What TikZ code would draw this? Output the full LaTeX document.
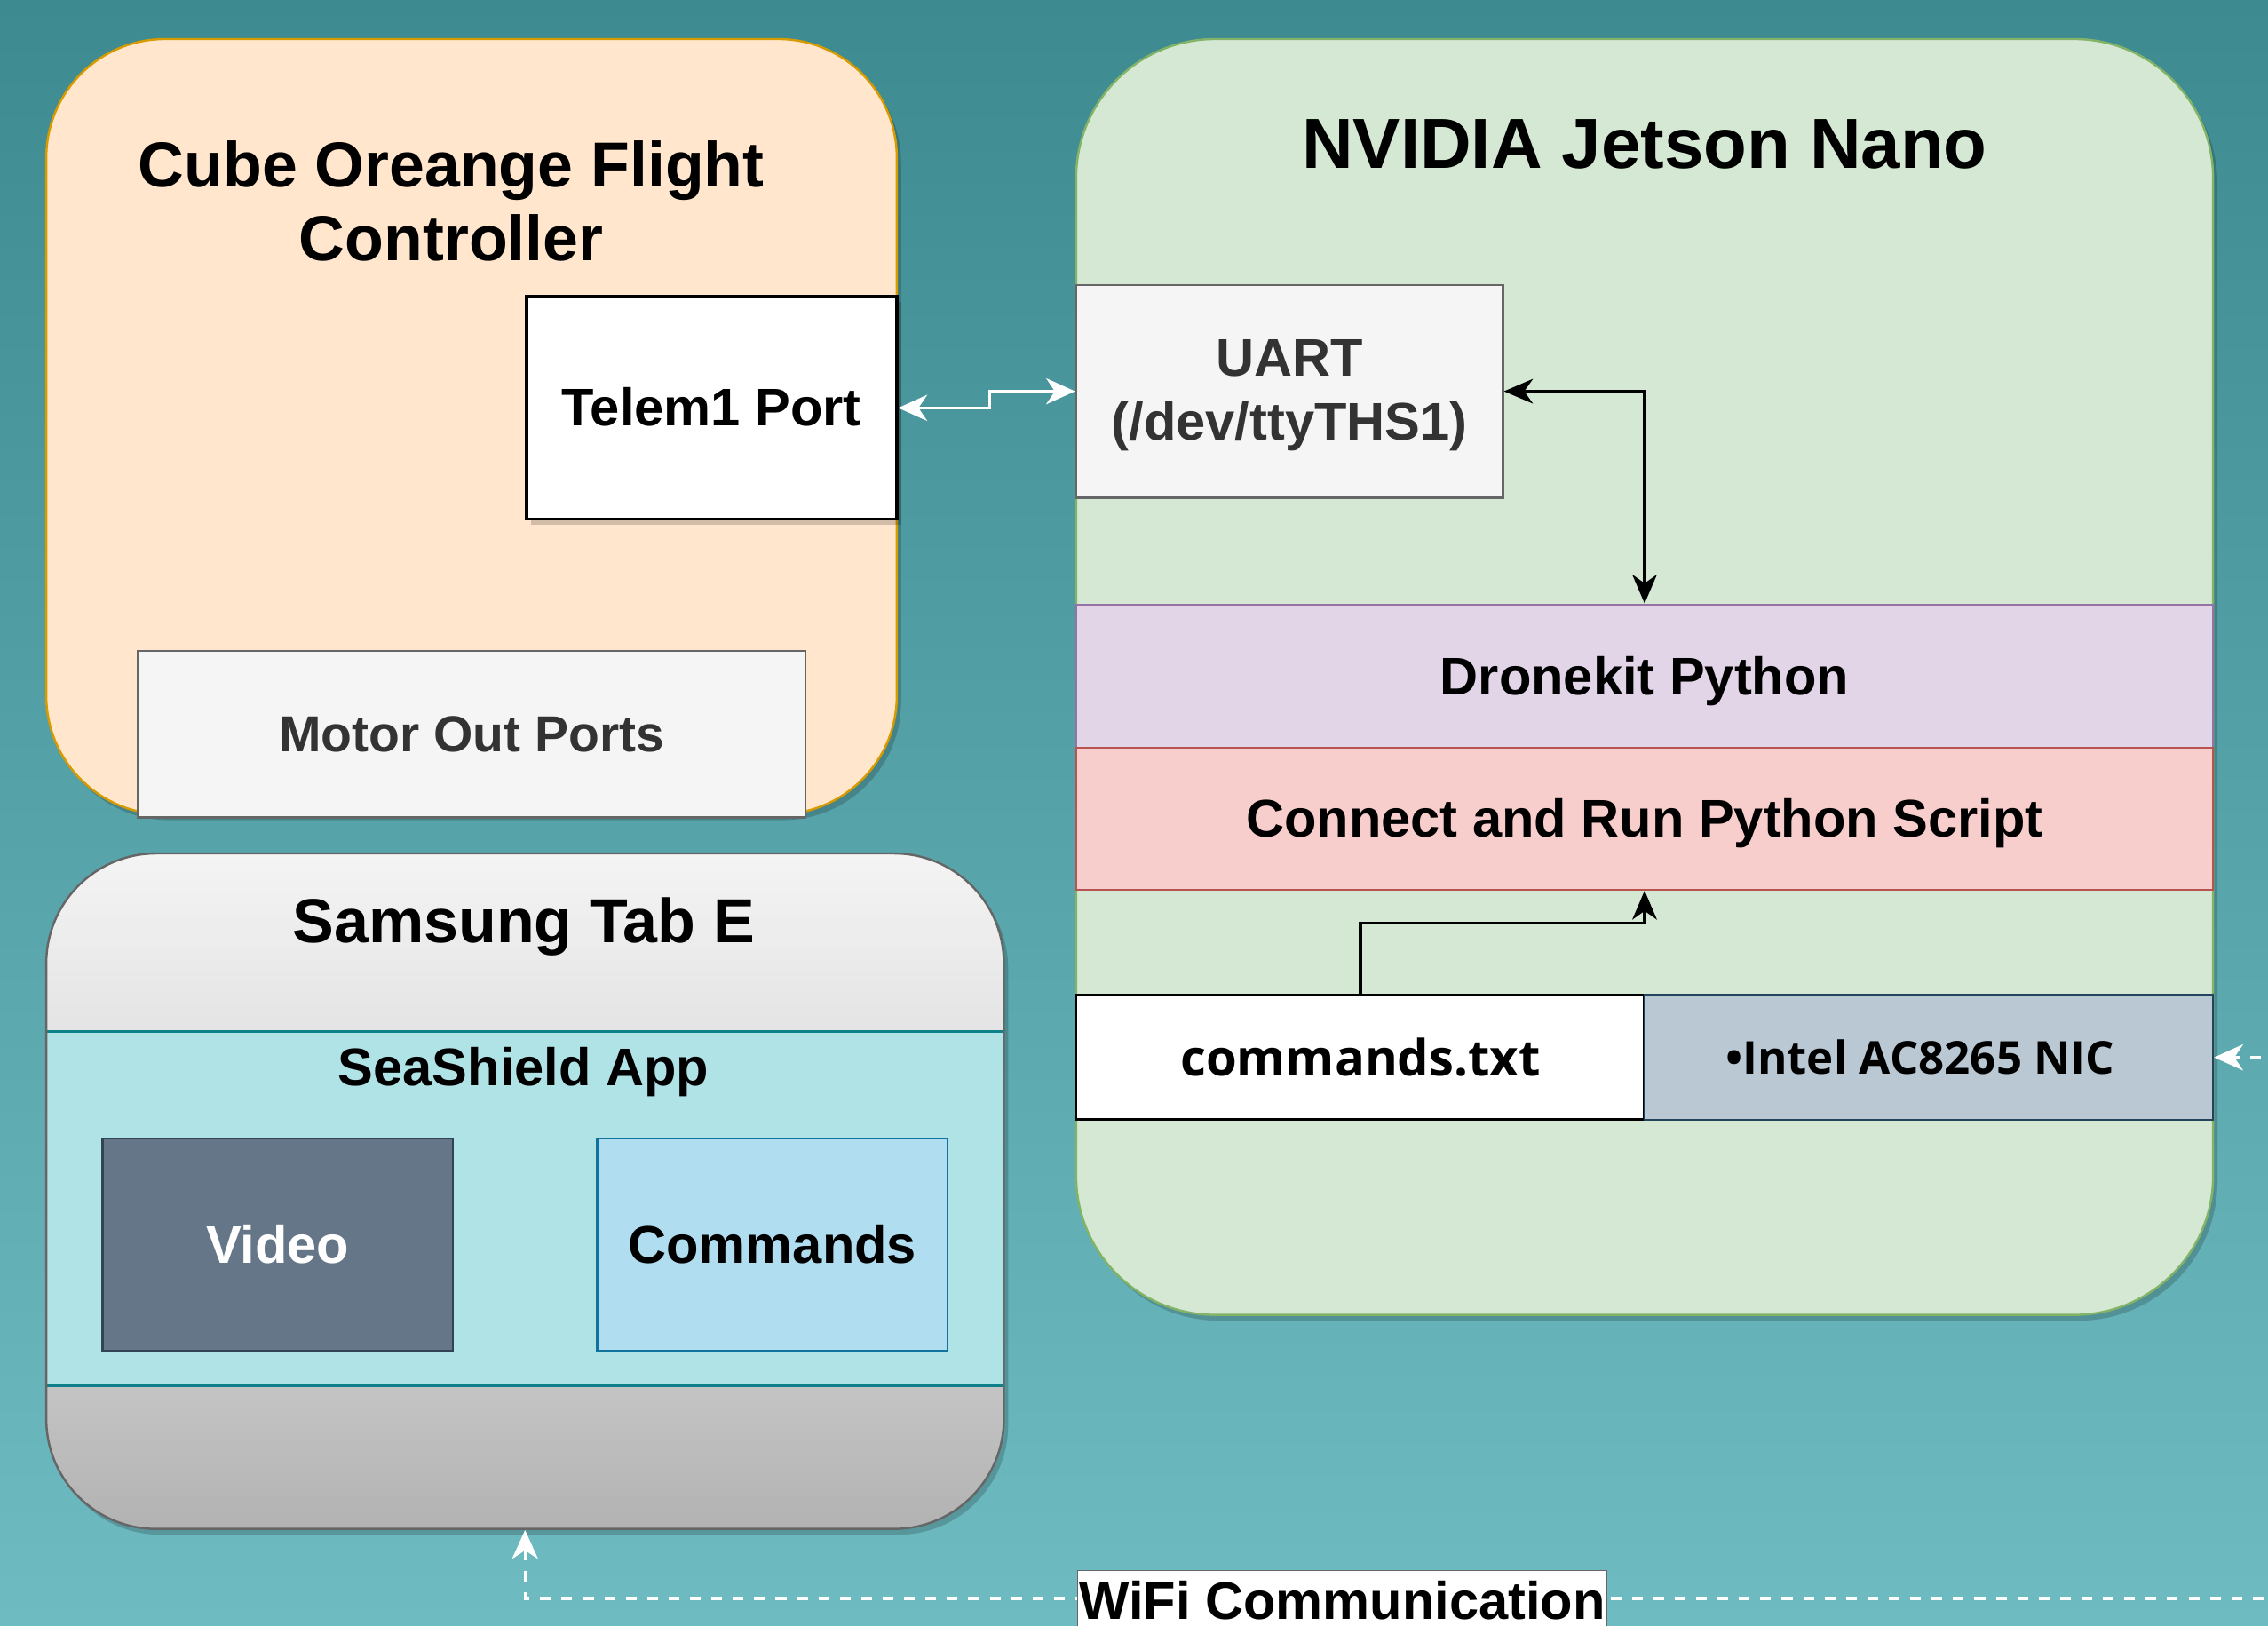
\documentclass[tikz,border=0pt]{standalone}
\usepackage{fontspec}
\setmainfont{Liberation Sans}
\newfontfamily\osans{Open Sans}
\usetikzlibrary{arrows.meta,shadows,calc}
\definecolor{bgtop}{HTML}{3E8A91}
\definecolor{bgbot}{HTML}{6EBBC1}
\definecolor{cubefill}{HTML}{FFE6CC}
\definecolor{cubedraw}{HTML}{D79B00}
\definecolor{nvfill}{HTML}{D5E8D4}
\definecolor{nvdraw}{HTML}{82B366}
\definecolor{gfill}{HTML}{F5F5F5}
\definecolor{gdraw}{HTML}{666666}
\definecolor{gtext}{HTML}{333333}
\definecolor{pfill}{HTML}{E1D5E7}
\definecolor{pdraw}{HTML}{9673A6}
\definecolor{rfill}{HTML}{F8CECC}
\definecolor{rdraw}{HTML}{B85450}
\definecolor{nicfill}{HTML}{BAC8D3}
\definecolor{nicdraw}{HTML}{23445D}
\definecolor{cfill}{HTML}{B0E3E6}
\definecolor{cdraw}{HTML}{0E8088}
\definecolor{vfill}{HTML}{647687}
\definecolor{vdraw}{HTML}{314354}
\definecolor{bfill}{HTML}{B1DDF0}
\definecolor{bdraw}{HTML}{10739E}
\definecolor{stop}{HTML}{F4F4F4}
\definecolor{sbot}{HTML}{E4E4E4}
\definecolor{btop}{HTML}{C4C4C4}
\definecolor{bbot}{HTML}{B2B2B2}
\tikzset{
  softshadow/.style={general shadow={shadow xshift=3pt, shadow yshift=-4pt, fill=black, opacity=0.18}},
  normtext/.style={font=\bfseries\fontsize{36.6pt}{44pt}\selectfont},
  dio/.style={text height=33pt, text depth=7.8pt},
  bigbox/.style={draw, line width=1.5pt, inner sep=0pt, softshadow},
  sbox/.style={draw, line width=1.5pt, inner sep=0pt, normtext, align=center},
  blkconn/.style={draw=black, line width=2pt, {Stealth[length=20pt, width=17pt, inset=6pt]}-{Stealth[length=20pt, width=17pt, inset=6pt]}},
  whconn/.style={draw=white, line width=2pt, {Stealth[length=20pt, width=18pt, inset=6pt]}-{Stealth[length=20pt, width=18pt, inset=6pt]}},
  blkone/.style={draw=black, line width=2pt, -{Stealth[length=20pt, width=17pt, inset=6pt]}},
}
\begin{document}
\begin{tikzpicture}[x=1pt,y=-1pt]
\useasboundingbox (0,0) rectangle (1568,1124);
\clip (0,0) rectangle (1568,1124);
\shade[top color=bgtop, bottom color=bgbot] (0,0) rectangle (1568,1124);

% Cube Orange flight controller
\node[bigbox, draw=cubedraw, fill=cubefill, rounded corners=82pt, minimum width=588pt, minimum height=536pt] (cube) at (326,295) {};
\node[font=\bfseries\fontsize{44pt}{51pt}\selectfont, align=center] (cubet) at (312,139) {Cube Oreange Flight\\Controller};
\node[sbox, dio, draw=black, line width=2pt, fill=white, minimum width=256pt, minimum height=154pt, softshadow] (tel) at (492,282) {Telem1 Port};
\node[sbox, text height=31.7pt, text depth=7.4pt, draw=gdraw, fill=gfill, text=gtext, minimum width=462pt, minimum height=115pt, font=\bfseries\fontsize{35pt}{42pt}\selectfont] (motor) at (326,507.5) {Motor Out Ports};

% NVIDIA Jetson Nano
\node[bigbox, draw=nvdraw, fill=nvfill, rounded corners=96pt, minimum width=786pt, minimum height=882pt] (nv) at (1137,468) {};
\node[font=\bfseries\fontsize{49pt}{56pt}\selectfont] (nvt) at (1137,100) {NVIDIA Jetson Nano};
\node[sbox, draw=gdraw, fill=gfill, minimum width=295pt, minimum height=147pt] (uart) at (891.5,270.5) {};
\node[normtext, text=gtext, align=center] (uartt) at (891.5,273.5) {UART\\(/dev/ttyTHS1)};
\node[sbox, dio, draw=pdraw, fill=pfill, minimum width=786pt, minimum height=99pt] (drone) at (1137,467.5) {Dronekit Python};
\node[sbox, dio, draw=rdraw, fill=rfill, minimum width=786pt, minimum height=98pt] (conn) at (1137,566) {Connect and Run Python Script};
\node[sbox, draw=black, line width=2pt, fill=white, minimum width=393pt, minimum height=86pt] (cmd) at (940.5,731) {\resizebox{249pt}{!}{\osans\bfseries commands.txt}};
\node[sbox, draw=nicdraw, fill=nicfill, minimum width=393pt, minimum height=86pt] (nic) at (1333.5,731) {};
\node (nict) at (1327.5,731) {\resizebox{269pt}{!}{\osans\bfseries •Intel AC8265 NIC}};

% Samsung Tab E
\node[bigbox, draw=none, fill=bbot, rounded corners=76pt, minimum width=662pt, minimum height=467pt] (sam) at (363,823.5) {};
\begin{scope}
  \clip[rounded corners=76pt] (32,590) rectangle (694,1057);
  \shade[top color=stop, bottom color=sbot] (32,590) rectangle (694,713);
  \fill[cfill] (32,713) rectangle (694,958);
  \shade[top color=btop, bottom color=bbot] (32,958) rectangle (694,1057);
  \draw[cdraw, line width=1.5pt] (32,713) -- (694,713) (32,958) -- (694,958);
\end{scope}
\draw[gdraw, line width=1.5pt, rounded corners=76pt] (32,590) rectangle (694,1057);
\node[text height=38.9pt, text depth=9.1pt, font=\bfseries\fontsize{43pt}{50pt}\selectfont] (samt) at (362,637) {Samsung Tab E};
\node[dio, normtext] (app) at (362,738) {SeaShield App};
\node[sbox, dio, draw=vdraw, fill=vfill, text=white, minimum width=242pt, minimum height=147pt] (video) at (192,860.5) {Video};
\node[sbox, dio, draw=bdraw, fill=bfill, minimum width=242pt, minimum height=147pt] (cmds) at (534,860.5) {Commands};

% connectors
\draw[whconn] (tel.east) -- ++(63,0) |- (uart.west);
\draw[blkconn] (uart.east) -| (drone.north);
\draw[blkone] (cmd.north) -- ++(0,-49) -| (conn.south);

\coordinate (wr) at (1610,1105);
\draw[whconn, dash pattern=on 7.4pt off 7.4pt] (sam.south) |- (wr) |- (nic.east);
\node[fill=white, draw=gdraw, line width=0.5pt, inner sep=1pt, dio, normtext, minimum width=364pt] (wifi) at (928,1107) {WiFi Communication};
\end{tikzpicture}
\end{document}
